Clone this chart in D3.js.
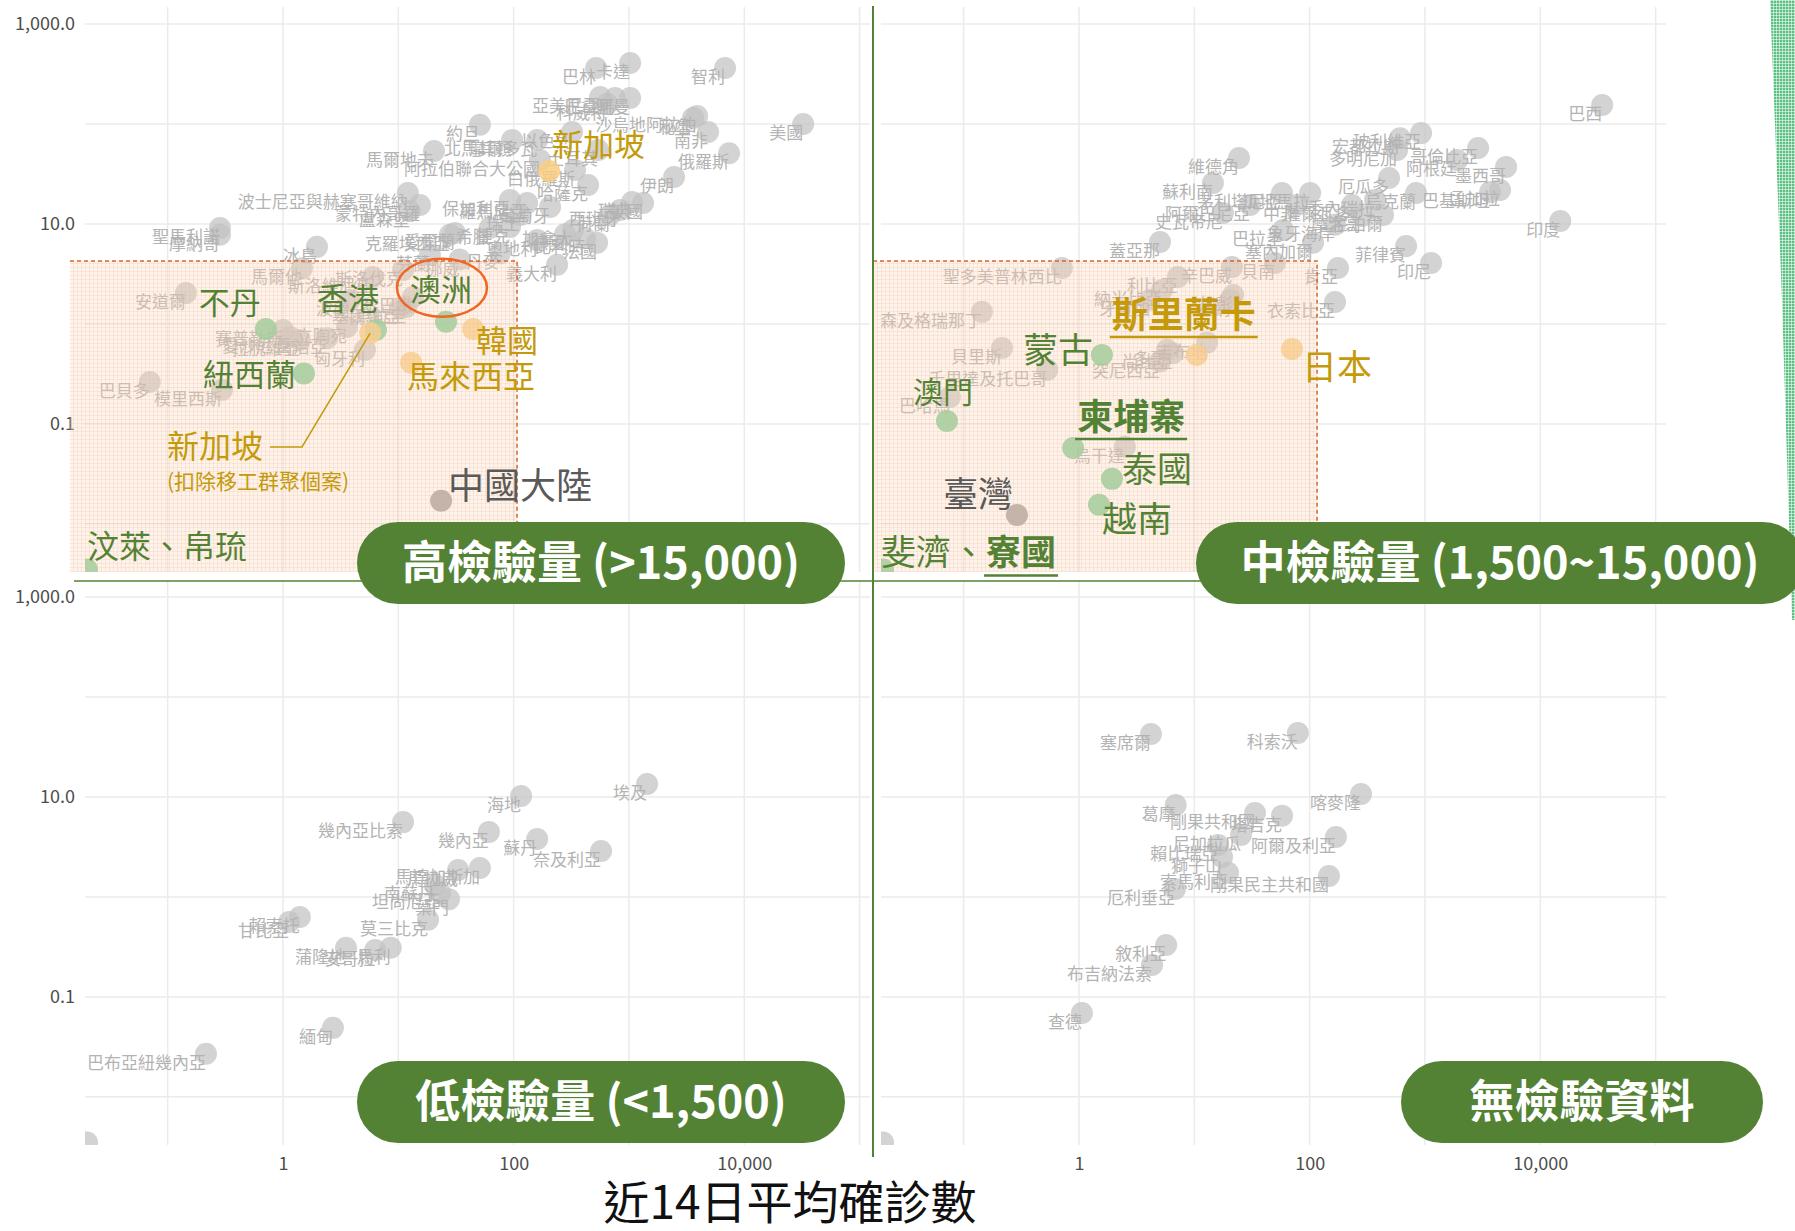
<!DOCTYPE html>
<html>
<head>
<meta charset="utf-8">
<script src="https://cdn.jsdelivr.net/npm/d3@7"></script>
<style>
  body { margin: 0; background: #fff; }
  svg { display: block; }
  text { font-family: "Noto Sans CJK TC", "Noto Sans", sans-serif; }
</style>
</head>
<body>
<svg id="chart" width="1795" height="1231"></svg>
<script>
// [國家, 近14日平均確診數, 縱軸值]
const highTest = [
  ["卡達",1023,407],["巴林",519,363],["智利",6810,363],["亞美尼亞",562,186],["巴拿馬",757,182],
  ["阿曼",1023,182],["科威特",646,158],["秘魯",3600,115],["沙烏地阿拉伯",3900,120],["南非",4850,83],
  ["美國",32400,100],["俄羅斯",7380,51],["伊朗",2460,29.5],["以色列",321,83],["北馬其頓",97,69],
  ["摩爾多瓦",160,69],["阿拉伯聯合大公國",169,43.7],["哈薩克",442,24.5],["白俄羅斯",341,34.7],
  ["英國",1325,16.2],["瑞典",1064,16.6],["保加利亞",93,17.4],["羅馬尼亞",131,16.2],["葡萄牙",207,14.8],
  ["捷克",93,9.3],["加拿大",327,8.7],["德國",279,7.9],["法國",529,6.5],["比利時",416,7.2],
  ["義大利",238,3.9],["奧地利",160,6.9],["丹麥",76,5.1],["挪威",34,4.4],["克羅埃西亞",28,7.8],
  ["愛爾蘭",31,8.1],["馬爾地夫",20.4,53.7],["波士尼亞與赫塞哥維納",12.1,20.4],["盧森堡",12.6,13.5],
  ["蒙特內哥羅",15.4,15.5],["聖馬利諾",0.284,9.1],["摩納哥",0.284,7.8],["冰島",1.97,5.9],
  ["馬爾他",1.46,3.6],["安道爾",0.144,2.04],["斯洛維尼亞",6.0,2.95],["烏拉圭",11.7,1.48],
  ["賽普勒斯",1.0,0.87],["愛沙尼亞",1.15,0.74],["拉脫維亞",1.40,0.69],["立陶宛",3.59,0.93],
  ["喬治亞",2.41,0.72],["匈牙利",5.14,0.55],["波蘭",3.81,1.74],["巴貝多",0.070,0.263],
  ["模里西斯",0.296,0.219],["斯洛伐克",11.0,3.47],["黎巴嫩",13.4,1.86],["塞爾維亞",10.3,1.45],
  ["瑞士",114,12.3],["荷蘭",686,12.3],["西班牙",837,13.8],["土耳其",540,55],["約旦",51,98],
  ["芬蘭",18.8,4.9],["希臘",62,9.1]
];
const midTest = [
  ["巴西",34400,155],["印度",14900,10.7],["玻利維亞",925,81],["宏都拉斯",608,72],["多明尼加",573,55],
  ["哥倫比亞",2890,57.5],["阿根廷",1900,43.7],["墨西哥",5050,37.2],["厄瓜多",488,28.8],["瓜地馬拉",101,20.4],
  ["烏克蘭",837,20.4],["巴基斯坦",3670,20.9],["孟加拉",4480,21.9],["摩洛哥",285,12.0],["尼泊爾",433,12.3],
  ["菲律賓",686,6.0],["印尼",1130,4.07],["肯亞",176,3.63],["衣索比亞",166,1.66],["維德角",24.4,45.7],
  ["蘇利南",14.5,25.7],["史瓦帝尼",17.7,12.9],["茅利塔尼亞",57.6,20.4],["中非",77.8,15.5],
  ["阿爾巴尼亞",30.4,15.5],["巴拉圭",58.8,8.7],["象牙海岸",166,9.8],["蓋亞那",5.04,6.6],
  ["塞內加爾",107,6.5],["貝南",50,4.07],["辛巴威",21.2,3.7],["聖多美普林西比",0.71,3.63],
  ["利比亞",7.2,2.95],["納米比亞",5.25,2.19],["牙買加",4.13,1.74],["多哥",5.8,0.55],["突尼西亞",5.04,0.42],
  ["聖文森及格瑞那丁",0.144,1.32],["貝里斯",0.215,0.575],["千里達及托巴哥",0.53,0.347],["巴哈馬",0.076,0.186],
  ["吉布地",12.9,0.65],["迦納",20.4,1.74],["烏干達",2.5,0.059],["尚比亞",6.5,0.51],["加彭",21.7,1.95],
  ["委內瑞拉",369,17.4],["薩爾瓦多",233,15.5]
];
const lowTest = [
  ["埃及",1435,13.5],["海地",116,10.2],["幾內亞比索",11.0,5.6],["幾內亞",61,4.47],["蘇丹",160,3.8],
  ["奈及利亞",573,2.88],["馬達加斯加",51,1.95],["馬拉威",33,1.86],["南蘇丹",20.8,1.32],["葉門",27.5,0.95],
  ["坦尚尼亞",23,1.10],["莫三比克",18.1,0.59],["賴索托",1.40,0.63],["甘比亞",1.13,0.56],["蒲隆地",3.52,0.31],
  ["安哥拉",6.3,0.295],["馬利",8.6,0.31],["緬甸",2.71,0.049],["巴布亞紐幾內亞",0.215,0.027],["尼日",0.02,0.0035]
];
const noTest = [
  ["塞席爾",4.21,42.7],["科索沃",79,43.7],["喀麥隆",279,10.7],["葛摩",6.9,8.3],["剛果共和國",33.6,6.9],
  ["塔吉克",57.6,6.5],["尼加拉瓜",25.4,4.17],["阿爾及利亞",169,3.98],["賴比瑞亞",16.1,3.3],["獅子山",17.4,2.51],
  ["剛果民主共和國",147,1.62],["索馬利亞",19.6,1.74],["厄利垂亞",6.8,1.20],["敘利亞",5.7,0.33],
  ["布吉納法索",4.3,0.209],["查德",1.06,0.069],["土庫曼",0.02,0.0035]
];
// [panel, name, x, y, group]
const highlightPts = [
  ["high","不丹",0.71,0.89,"green"],["high","香港",6.4,0.87,"green"],["high","澳洲",25.9,1.05,"green"],
  ["high","紐西蘭",1.52,0.32,"green"],["high","汶萊、帛琉",0.02,0.0035,"green"],
  ["high","新加坡",203,33.9,"orange"],["high","新加坡*",5.7,0.81,"orange"],
  ["high","韓國",44.5,0.89,"orange"],["high","馬來西亞",12.9,0.41,"orange"],
  ["high","中國大陸",23.5,0.017,"dark"],
  ["mid","澳門",0.0716,0.107,"green"],["mid","蒙古",1.58,0.49,"green"],["mid","柬埔寨",0.89,0.0575,"green"],
  ["mid","泰國",1.93,0.0282,"green"],["mid","越南",1.49,0.0155,"green"],["mid","斐濟、寮國",0.02,0.0035,"green"],
  ["mid","斯里蘭卡",10.5,0.49,"orange"],["mid","日本",70.3,0.56,"orange"],["mid","臺灣",0.29,0.0123,"dark"]
];
const xTicks = [1, 100, 10000];
const yTicks = [0.1, 10, 1000];

// label placement (offset from the point, px)
const callouts = {
  "不丹": {dx:-67, dy:-15, size:31}, "香港": {dx:-59, dy:-20, size:31}, "澳洲": {dx:-36, dy:-21, size:31},
  "紐西蘭": {dx:-101, dy:13, size:31}, "汶萊、帛琉": {dx:0, dy:-11, size:32},
  "新加坡": {dx:3, dy:-15, size:31}, "韓國": {dx:3, dy:23, size:31}, "馬來西亞": {dx:-4, dy:25, size:32},
  "中國大陸": {dx:7, dy:-2, size:36},
  "澳門": {dx:-34, dy:-18, size:30}, "蒙古": {dx:-79, dy:8, size:35},
  "柬埔寨": {dx:4, dy:-18, size:36, bold:true, underline:true},
  "泰國": {dx:10, dy:3, size:35}, "越南": {dx:3, dy:27, size:35},
  "斯里蘭卡": {dx:-85, dy:-27, size:36, bold:true, underline:true},
  "日本": {dx:10, dy:31, size:35}, "臺灣": {dx:-74, dy:-8, size:35}
};
const colors = {green:"#548235", orange:"#c49a0a", dark:"#5a5a5a"};
const dotFill = {green:"#74cb8e", orange:"#f8cc80", dark:"#979797"};

const panelW = 785, panelH = 565;
const x = d3.scaleLog().domain([0.0192, 123000]).range([0, panelW]);
const y = d3.scaleLog().domain([0.0033, 1479]).range([panelH, 0]);

const layout = [
  {key:"high", data:highTest, ox:85, oy:7, pill:"高檢驗量 (>15,000)", px:357, py:522, pw:488, yAxis:true},
  {key:"mid", data:midTest, ox:881, oy:7, pill:"中檢驗量 (1,500~15,000)", px:1196, py:522, pw:608},
  {key:"low", data:lowTest, ox:85, oy:580, pill:"低檢驗量 (<1,500)", px:357, py:1061, pw:488, yAxis:true, xAxis:true},
  {key:"none", data:noTest, ox:881, oy:580, pill:"無檢驗資料", px:1401, py:1061, pw:362, xAxis:true}
];

const svg = d3.select("#chart");
const defs = svg.append("defs");
let pat = defs.append("pattern").attr("id", "peach").attr("width", 4).attr("height", 4)
  .attr("patternUnits", "userSpaceOnUse");
pat.append("rect").attr("width", 4).attr("height", 4).attr("fill", "rgba(250,214,188,0.3)");
pat.append("path").attr("d", "M0 0.5H4M0.5 0V4").attr("stroke", "rgba(240,178,140,0.2)").attr("stroke-width", 1);
let gpat = defs.append("pattern").attr("id", "greenHatch").attr("width", 3).attr("height", 3)
  .attr("patternUnits", "userSpaceOnUse");
gpat.append("rect").attr("width", 3).attr("height", 3).attr("fill", "#5cc082");
gpat.append("path").attr("d", "M0 0.5H3M0.5 0V3").attr("stroke", "rgba(255,255,255,0.55)").attr("stroke-width", 1);

layout.forEach(p => {
  defs.append("clipPath").attr("id", "clip-" + p.key)
    .append("rect").attr("x", 0).attr("y", 0).attr("width", panelW).attr("height", panelH);
});

// decorative strip at right edge
svg.append("path")
  .attr("d", "M1770,0 L1795,0 L1795,620 L1792,620 L1782,300 L1774,100 Z")
  .attr("fill", "url(#greenHatch)");

layout.forEach(p => {
  const g = svg.append("g").attr("transform", `translate(${p.ox},${p.oy})`);

  // grid
  g.selectAll(".vg").data(d3.range(-1, 6).map(e => Math.pow(10, e))).enter().append("line")
    .attr("x1", d => x(d)).attr("x2", d => x(d)).attr("y1", 0).attr("y2", panelH)
    .attr("stroke", "#ebebeb").attr("stroke-width", 1.5);
  g.selectAll(".hg").data(d3.range(-2, 4).map(e => Math.pow(10, e))).enter().append("line")
    .attr("x1", 0).attr("x2", panelW).attr("y1", d => y(d)).attr("y2", d => y(d))
    .attr("stroke", "#ebebeb").attr("stroke-width", 1.5);

  if (p.yAxis) {
    const ya = g.append("g").call(d3.axisLeft(y).tickValues(yTicks).tickFormat(d3.format(",.1f")).tickSize(0).tickPadding(10));
    ya.select(".domain").remove();
    ya.selectAll("text").attr("font-family", "'Noto Sans', sans-serif").attr("font-size", 18).attr("fill", "#4d4d4d");
  }
  if (p.xAxis) {
    const xa = g.append("g").attr("transform", `translate(0,${panelH})`)
      .call(d3.axisBottom(x).tickValues(xTicks).tickFormat(d3.format(",")).tickSize(0).tickPadding(12));
    xa.select(".domain").remove();
    xa.selectAll("text").attr("font-family", "'Noto Sans', sans-serif").attr("font-size", 18).attr("fill", "#4d4d4d");
  }

  const plot = g.append("g").attr("clip-path", `url(#clip-${p.key})`);

  // grey countries
  plot.selectAll(".dot").data(p.data).enter().append("circle")
    .attr("cx", d => x(d[1])).attr("cy", d => y(d[2])).attr("r", 11)
    .attr("fill", "#c2c2c2").attr("opacity", 0.72);
  plot.selectAll(".lbl").data(p.data).enter().append("text")
    .attr("x", d => x(d[1])).attr("y", d => y(d[2]) + 15)
    .attr("text-anchor", "end").attr("font-size", 17).attr("fill", "#b3b3b3")
    .text(d => d[0]);

  const hl = highlightPts.filter(d => d[0] === p.key);
  plot.selectAll(".hdot").data(hl).enter().append("circle")
    .attr("cx", d => x(d[2])).attr("cy", d => y(d[3])).attr("r", 11)
    .attr("fill", d => dotFill[d[4]]).attr("opacity", 0.85);

  // shaded zone (drawn over the dots, translucent)
  if (p.key === "high" || p.key === "mid") {
    const x0 = p.key === "high" ? -15 : -8;
    const x1 = x(p.key === "high" ? 107 : 116);
    const y0 = y(4.27);
    g.append("rect").attr("x", x0).attr("y", y0).attr("width", x1 - x0).attr("height", panelH - y0)
      .attr("fill", "url(#peach)");
    g.append("path").attr("d", `M${x0},${y0}H${x1}V${panelH}`)
      .attr("fill", "none").attr("stroke", "#d8642a").attr("stroke-width", 1.5).attr("stroke-dasharray", "4,3");
  }

  // highlighted labels
  hl.forEach(d => {
    const name = d[1];
    const cx = x(d[2]), cy = y(d[3]);
    const col = colors[d[4]];
    if (name === "新加坡*") {
      g.append("text").attr("x", 82).attr("y", 451).attr("font-size", 32).attr("fill", col).text("新加坡");
      g.append("text").attr("x", 82).attr("y", 482).attr("font-size", 21).attr("fill", col).text("(扣除移工群聚個案)");
      g.append("path").attr("d", `M185,440H217L${cx},${cy}`).attr("fill", "none")
        .attr("stroke", col).attr("stroke-width", 1.5);
      return;
    }
    if (name === "斐濟、寮國") {
      const t = g.append("text").attr("x", cx - 2).attr("y", cy - 4).attr("font-size", 35).attr("fill", col);
      t.append("tspan").text("斐濟、");
      const b = t.append("tspan").attr("font-weight", "bold").text("寮國");
      const w0 = t.node().getSubStringLength(0, 3), w1 = b.node().getComputedTextLength();
      g.append("line").attr("x1", cx - 2 + w0 - 2).attr("x2", cx - 2 + w0 + w1 + 2)
        .attr("y1", cy + 6).attr("y2", cy + 6).attr("stroke", col).attr("stroke-width", 2.5);
      return;
    }
    const c = callouts[name];
    const t = g.append("text").attr("x", cx + c.dx).attr("y", cy + c.dy).attr("font-size", c.size)
      .attr("fill", col).attr("font-weight", c.bold ? "bold" : "normal").text(name);
    if (c.underline) {
      const w = t.node().getComputedTextLength();
      g.append("line").attr("x1", cx + c.dx - 2).attr("x2", cx + c.dx + w + 2)
        .attr("y1", cy + c.dy + 9).attr("y2", cy + c.dy + 9).attr("stroke", col).attr("stroke-width", 2.5);
    }
  });

  if (p.key === "high") {
    const a = highlightPts.find(d => d[1] === "澳洲");
    g.append("ellipse").attr("cx", x(a[2]) - 4).attr("cy", y(a[3]) - 34).attr("rx", 45).attr("ry", 29)
      .attr("fill", "none").attr("stroke", "#f26522").attr("stroke-width", 2.5);
  }
});

// dividers
svg.append("line").attr("x1", 74).attr("x2", 1795).attr("y1", 581).attr("y2", 581)
  .attr("stroke", "#548235").attr("stroke-width", 1.5);
svg.append("line").attr("x1", 873).attr("x2", 873).attr("y1", 6).attr("y2", 1157)
  .attr("stroke", "#548235").attr("stroke-width", 2);

// panel pills
layout.forEach(p => {
  svg.append("rect").attr("x", p.px).attr("y", p.py).attr("width", p.pw).attr("height", 82)
    .attr("rx", 41).attr("fill", "#548235");
  svg.append("text").attr("x", p.px + p.pw / 2).attr("y", p.py + 41).attr("dy", "0.35em")
    .attr("text-anchor", "middle").attr("font-size", 45).attr("font-weight", "bold").attr("fill", "#fff")
    .text(p.pill);
});

svg.append("text").attr("x", 790).attr("y", 1219).attr("text-anchor", "middle")
  .attr("font-size", 46).attr("fill", "#111").text("近14日平均確診數");
</script>
</body>
</html>
